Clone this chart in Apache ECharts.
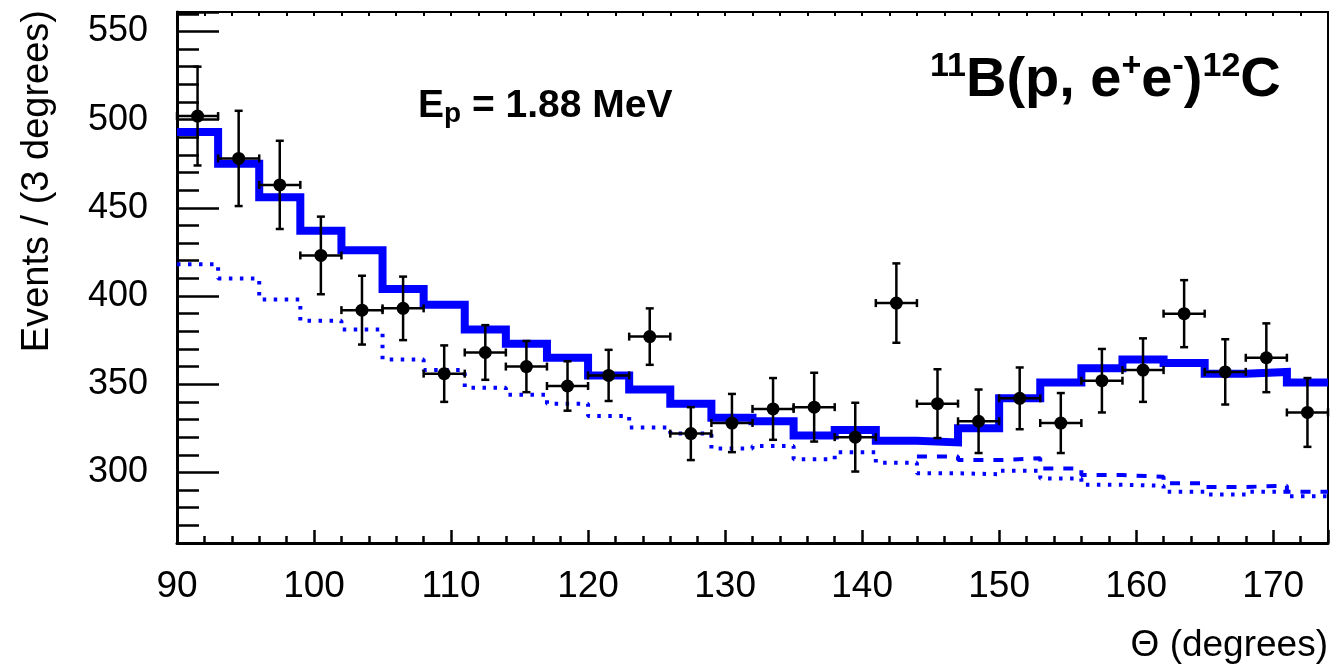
<!DOCTYPE html>
<html>
<head>
<meta charset="utf-8">
<title>11B(p, e+e-)12C angular distribution</title>
<script src="https://cdn.jsdelivr.net/npm/echarts@6/dist/echarts.min.js"></script>
<style>
  html, body { margin: 0; padding: 0; background: #fff; }
  #chart { width: 1335px; height: 668px; }
</style>
</head>
<body>
<div id="chart"></div>
<script>
// 角度分箱中心 (3 度一箱)
const binCenters = [91.5, 94.5, 97.5, 100.5, 103.5, 106.5, 109.5, 112.5, 115.5, 118.5,
                    121.5, 124.5, 127.5, 130.5, 133.5, 136.5, 139.5, 142.5, 145.5, 148.5,
                    151.5, 154.5, 157.5, 160.5, 163.5, 166.5, 169.5, 172.5];
const binHalf = 1.5;

// 测量数据点及误差
const counts = [502, 478, 463, 423, 392, 393, 356, 368, 360, 349,
                355, 377, 322, 328, 336, 337, 320, 396, 339, 329,
                342, 328, 352, 358, 390, 357, 365, 334];
const errors = [28, 27, 25, 22, 19.5, 18, 16, 15.5, 14.5, 14,
                14.5, 16, 15, 16.5, 17.5, 19.5, 19.5, 22.5, 19.5, 18,
                17.5, 17, 18, 18, 19, 18.5, 19.5, 19.5];

// 拟合总和 (粗实线)
const fitTotal = [493, 475, 456, 437, 426, 404, 395, 381, 373, 365,
                  355, 347, 339, 331, 329, 321, 324, 318, 317, 325,
                  342, 351, 359, 364, 362, 356, 357, 351];
// 本底 (点线)
const background = [418, 410, 398, 386, 381, 364, 358, 348, 344, 339,
                    332, 325.5, 322, 313.5, 315, 307.5, 311.5, 305.5, 299.5, 299,
                    301, 296.5, 293, 292.5, 289, 287.5, 289, 286.5];
// 虚线分量 (只在 144 度以后可见)
const dashedPart = [null, null, null, null, null, null, null, null, null, null,
                    null, null, null, null, null, null, null, null, 309, 307,
                    308, 302.3, 298.5, 297.5, 293.8, 291.8, 292.4, 289];

const xMin = 90, xMax = 174;
const yMin = 260, yMax = 561;
const FONT = '"Liberation Sans", Arial, Helvetica, sans-serif';
const BLUE = '#0000ff';

/**
 * 把分箱数值转成直方图阶梯折线
 */
function stepPoints(centers, values) {
    const pts = [];
    values.forEach((v, i) => {
        if (v == null) return;
        pts.push([centers[i] - binHalf, v], [centers[i] + binHalf, v]);
    });
    return pts;
}

const chart = echarts.init(document.getElementById('chart'), null, { renderer: 'canvas' });

const option = {
    animation: false,
    backgroundColor: '#fff',
    grid: {
        left: 177, right: 7, top: 12, bottom: 125,
        show: true, borderColor: '#000', borderWidth: 2, backgroundColor: 'transparent'
    },
    xAxis: [
        {
            // 主刻度 + 标签
            type: 'value', min: xMin, max: xMax, interval: 10, position: 'bottom',
            axisLine: { show: true, onZero: false, lineStyle: { color: '#000', width: 3 } },
            axisTick: { show: true, inside: true, length: 13, lineStyle: { color: '#000', width: 2.5 } },
            axisLabel: {
                color: '#000', fontSize: 37, fontFamily: FONT, margin: 25,
                formatter: v => (v % 10 === 0 ? String(v) : '')
            },
            splitLine: { show: false }
        },
        {
            // 次刻度 (2 度)
            type: 'value', min: xMin, max: xMax, interval: 2, position: 'bottom',
            axisLine: { show: false, onZero: false },
            axisTick: { show: true, inside: true, length: 7, lineStyle: { color: '#000', width: 2.5 } },
            axisLabel: { show: false },
            splitLine: { show: false }
        },
        {
            // 顶部小刻度
            type: 'value', min: xMin, max: xMax, interval: 2, position: 'top',
            axisLine: { show: true, onZero: false, lineStyle: { color: '#000', width: 2 } },
            axisTick: { show: true, inside: true, length: 4, lineStyle: { color: '#000', width: 2 } },
            axisLabel: { show: false },
            splitLine: { show: false }
        }
    ],
    yAxis: [
        {
            type: 'value', min: yMin, max: yMax, minInterval: 50, maxInterval: 50, position: 'left',
            axisLine: { show: true, onZero: false, lineStyle: { color: '#000', width: 3 } },
            axisTick: { show: true, inside: true, length: 42, lineStyle: { color: '#000', width: 2.5 } },
            axisLabel: {
                color: '#000', fontSize: 36, fontFamily: FONT, margin: 29,
                formatter: v => (v % 50 === 0 ? String(v) : '')
            },
            splitLine: { show: false }
        },
        {
            type: 'value', min: yMin, max: yMax, interval: 10, position: 'left',
            axisLine: { show: false, onZero: false },
            axisTick: { show: true, inside: true, length: 22, lineStyle: { color: '#000', width: 2.5 } },
            axisLabel: { show: false },
            splitLine: { show: false }
        }
    ],
    series: [
        {
            name: 'background',
            type: 'line', xAxisIndex: 0, yAxisIndex: 0,
            data: stepPoints(binCenters, background),
            showSymbol: false, symbol: 'none', z: 2,
            lineStyle: { color: BLUE, width: 4, type: [3.5, 7.5] }
        },
        {
            name: 'dashed',
            type: 'line', xAxisIndex: 0, yAxisIndex: 0,
            data: stepPoints(binCenters, dashedPart),
            showSymbol: false, symbol: 'none', z: 2,
            lineStyle: { color: BLUE, width: 4, type: [10, 10] }
        },
        {
            name: 'fit',
            type: 'line', xAxisIndex: 0, yAxisIndex: 0,
            data: stepPoints(binCenters, fitTotal),
            showSymbol: false, symbol: 'none', z: 3,
            lineStyle: { color: BLUE, width: 8, cap: 'butt', join: 'miter' }
        },
        {
            name: 'data',
            type: 'custom', xAxisIndex: 0, yAxisIndex: 0, z: 5,
            data: binCenters.map((c, i) => [c, counts[i], errors[i]]),
            renderItem: function (params, api) {
                const x = api.value(0), y = api.value(1), e = api.value(2);
                const c = api.coord([x, y]);
                const l = api.coord([x - binHalf, y]);
                const r = api.coord([x + binHalf, y]);
                const t = api.coord([x, y + e]);
                const b = api.coord([x, y - e]);
                const st = { stroke: '#000', lineWidth: 2.5, fill: null };
                const cap = 4;
                const seg = (x1, y1, x2, y2) => ({ type: 'line', shape: { x1, y1, x2, y2 }, style: st });
                return {
                    type: 'group',
                    children: [
                        seg(l[0], l[1], r[0], r[1]),
                        seg(t[0], t[1], b[0], b[1]),
                        seg(t[0] - cap, t[1], t[0] + cap, t[1]),
                        seg(b[0] - cap, b[1], b[0] + cap, b[1]),
                        seg(l[0], l[1] - cap, l[0], l[1] + cap),
                        seg(r[0], r[1] - cap, r[0], r[1] + cap),
                        { type: 'circle', shape: { cx: c[0], cy: c[1], r: 6.5 }, style: { fill: '#000' } }
                    ]
                };
            }
        }
    ],
    graphic: [
        {
            type: 'text', x: 38, y: 10, rotation: Math.PI / 2, z: 10,
            style: {
                text: 'Events / (3 degrees)', fill: '#000',
                fontSize: 38, fontFamily: FONT,
                textAlign: 'right', textVerticalAlign: 'middle'
            }
        },
        {
            type: 'text', x: 1328, y: 646, z: 10,
            style: {
                text: 'Θ (degrees)', fill: '#000',
                fontSize: 37, fontFamily: FONT,
                textAlign: 'right', textVerticalAlign: 'middle'
            }
        },
        {
            type: 'text', x: 930, y: 50, z: 10,
            style: {
                text: '{s|11}{m|B(p, e}{s|+}{m|e}{s|-}{m|)}{s|12}{m|C}',
                fill: '#000', textAlign: 'left', textVerticalAlign: 'top',
                rich: {
                    m: { fontSize: 56, fontWeight: 'bold', fontFamily: FONT, lineHeight: 62, fill: '#000' },
                    s: { fontSize: 34, fontWeight: 'bold', fontFamily: FONT, lineHeight: 24, verticalAlign: 'top', fill: '#000' }
                }
            }
        },
        {
            type: 'text', x: 418, y: 84, z: 10,
            style: {
                text: '{m|E}{b|p}{m| = 1.88 MeV}',
                fill: '#000', textAlign: 'left', textVerticalAlign: 'top',
                rich: {
                    m: { fontSize: 39, fontWeight: 'bold', fontFamily: FONT, lineHeight: 44, fill: '#000' },
                    b: { fontSize: 28, fontWeight: 'bold', fontFamily: FONT, lineHeight: 22, verticalAlign: 'bottom', fill: '#000' }
                }
            }
        }
    ]
};

chart.setOption(option);
</script>
</body>
</html>
